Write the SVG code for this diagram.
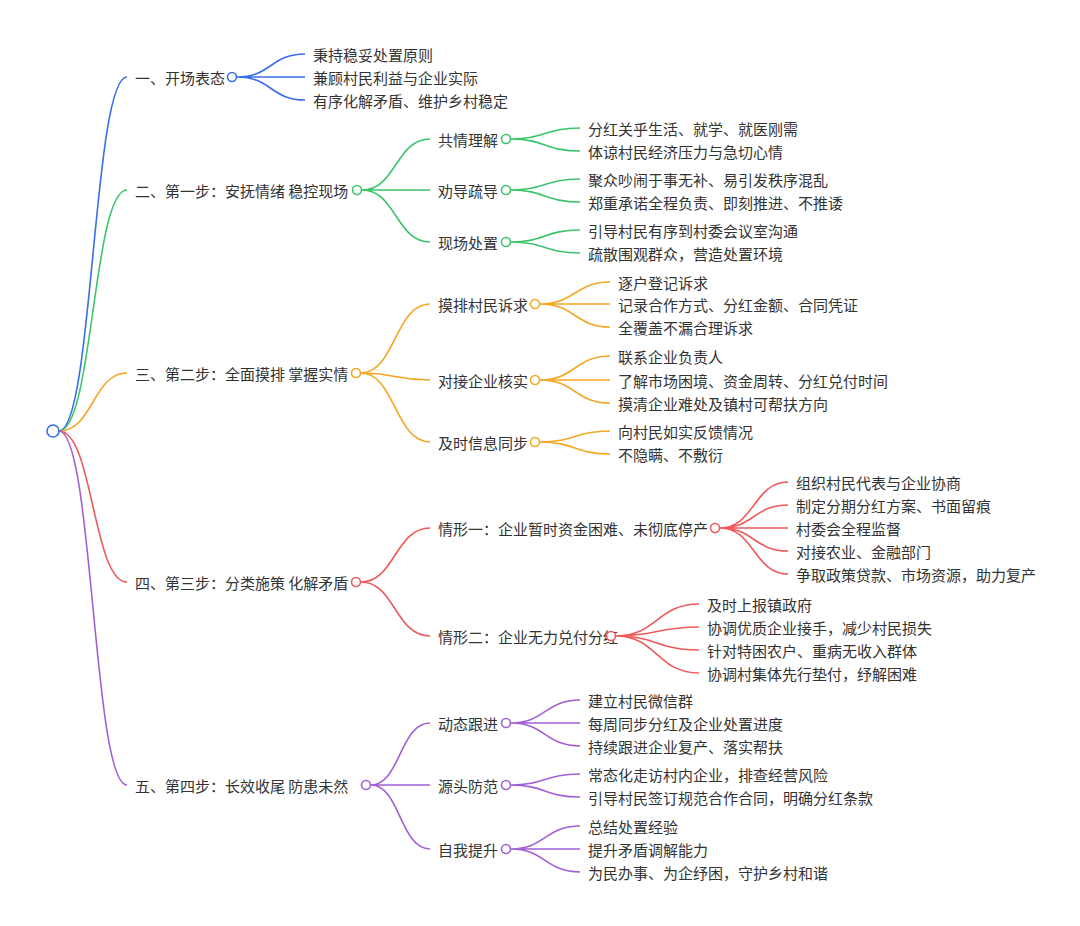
<svg xmlns="http://www.w3.org/2000/svg" width="1080" height="926" viewBox="0 0 1080 926">
<style>
text{font-family:"Noto Sans CJK SC","Noto Sans",sans-serif;font-size:15px;fill:#333;dominant-baseline:central}
path{fill:none;stroke-width:1.6}
circle{fill:#fff;stroke-width:1.6}
.b{stroke:#3a6ee8}.g{stroke:#3cc46c}.o{stroke:#f5a623}.r{stroke:#ee5a5a}.p{stroke:#a25fd6}
</style>
<rect width="1080" height="926" fill="#fff"/>
<g id="connectors">
<path class="b" d="M59 431C93 431 93 77 127 77"/>
<path class="g" d="M59 431C93 431 93 190 127 190"/>
<path class="o" d="M59 431C93 431 93 373 127 373"/>
<path class="r" d="M59 431C93 431 93 582 127 582"/>
<path class="p" d="M59 431C93 431 93 785 127 785"/>
<path class="b" d="M237 77C271 77 271 54 305 54M237 77H305M237 77C271 77 271 100 305 100"/>
<path class="g" d="M362 190C396 190 396 139 430 139M362 190H430M362 190C396 190 396 242 430 242"/>
<path class="g" d="M511 139C545 139 545 128 580 128M511 139C545 139 545 151 580 151M511 190C545 190 545 179 580 179M511 190C545 190 545 202 580 202M511 242C545 242 545 230 580 230M511 242C545 242 545 253 580 253"/>
<path class="o" d="M361 373C395 373 395 304 430 304M361 373C395 373 395 380 430 380M361 373C395 373 395 442 430 442"/>
<path class="o" d="M540 304C575 304 575 282 610 282M540 304H610M540 304C575 304 575 327 610 327M540 380C575 380 575 356 610 356M540 380H610M540 380C575 380 575 403 610 403M540 442C575 442 575 431 610 431M540 442C575 442 575 454 610 454"/>
<path class="r" d="M361 582C395 582 395 528 430 528M361 582C395 582 395 636 430 636"/>
<path class="r" d="M720 528C754 528 754 482 788 482M720 528C754 528 754 505 788 505M720 528H788M720 528C754 528 754 551 788 551M720 528C754 528 754 574 788 574"/>
<path class="r" d="M616 636C657 636 657 604 699 604M616 636C657 636 657 627 699 627M616 636C657 636 657 650 699 650M616 636C657 636 657 673 699 673"/>
<path class="p" d="M371 785C400 785 400 723 430 723M371 785H430M371 785C400 785 400 849 430 849"/>
<path class="p" d="M511 723C545 723 545 700 580 700M511 723H580M511 723C545 723 545 746 580 746M511 785C545 785 545 774 580 774M511 785C545 785 545 797 580 797M511 849C545 849 545 826 580 826M511 849H580M511 849C545 849 545 872 580 872"/>
</g>
<g id="root"><circle class="b" cx="53" cy="431" r="6"/></g>
<g id="n1"><text x="135" y="77">一、开场表态</text><circle class="b" cx="232" cy="77" r="4.5"/></g>
<g id="n1c"><text x="313" y="54">秉持稳妥处置原则</text><text x="313" y="77">兼顾村民利益与企业实际</text><text x="313" y="100">有序化解矛盾、维护乡村稳定</text></g>
<g id="n2"><text x="135" y="190">二、第一步：安抚情绪 稳控现场</text><circle class="g" cx="357" cy="190" r="4.5"/></g>
<g id="n2a"><text x="438" y="139">共情理解</text><circle class="g" cx="506" cy="139" r="4.5"/><text x="588" y="128">分红关乎生活、就学、就医刚需</text><text x="588" y="151">体谅村民经济压力与急切心情</text></g>
<g id="n2b"><text x="438" y="190">劝导疏导</text><circle class="g" cx="506" cy="190" r="4.5"/><text x="588" y="179">聚众吵闹于事无补、易引发秩序混乱</text><text x="588" y="202">郑重承诺全程负责、即刻推进、不推诿</text></g>
<g id="n2c"><text x="438" y="242">现场处置</text><circle class="g" cx="506" cy="242" r="4.5"/><text x="588" y="230">引导村民有序到村委会议室沟通</text><text x="588" y="253">疏散围观群众，营造处置环境</text></g>
<g id="n3"><text x="135" y="373">三、第二步：全面摸排 掌握实情</text><circle class="o" cx="356" cy="373" r="4.5"/></g>
<g id="n3a"><text x="438" y="304">摸排村民诉求</text><circle class="o" cx="535" cy="304" r="4.5"/><text x="618" y="282">逐户登记诉求</text><text x="618" y="304">记录合作方式、分红金额、合同凭证</text><text x="618" y="327">全覆盖不漏合理诉求</text></g>
<g id="n3b"><text x="438" y="380">对接企业核实</text><circle class="o" cx="535" cy="380" r="4.5"/><text x="618" y="356">联系企业负责人</text><text x="618" y="380">了解市场困境、资金周转、分红兑付时间</text><text x="618" y="403">摸清企业难处及镇村可帮扶方向</text></g>
<g id="n3c"><text x="438" y="442">及时信息同步</text><circle class="o" cx="535" cy="442" r="4.5"/><text x="618" y="431">向村民如实反馈情况</text><text x="618" y="454">不隐瞒、不敷衍</text></g>
<g id="n4"><text x="135" y="582">四、第三步：分类施策 化解矛盾</text><circle class="r" cx="356" cy="582" r="4.5"/></g>
<g id="n4a"><text x="438" y="528">情形一：企业暂时资金困难、未彻底停产</text><circle class="r" cx="715" cy="528" r="4.5"/><text x="796" y="482">组织村民代表与企业协商</text><text x="796" y="505">制定分期分红方案、书面留痕</text><text x="796" y="528">村委会全程监督</text><text x="796" y="551">对接农业、金融部门</text><text x="796" y="574">争取政策贷款、市场资源，助力复产</text></g>
<g id="n4b"><text x="438" y="636">情形二：企业无力兑付分红</text><circle class="r" cx="611" cy="636" r="4.5"/><text x="707" y="604">及时上报镇政府</text><text x="707" y="627">协调优质企业接手，减少村民损失</text><text x="707" y="650">针对特困农户、重病无收入群体</text><text x="707" y="673">协调村集体先行垫付，纾解困难</text></g>
<g id="n5"><text x="135" y="785">五、第四步：长效收尾 防患未然</text><circle class="p" cx="366" cy="785" r="4.5"/></g>
<g id="n5a"><text x="438" y="723">动态跟进</text><circle class="p" cx="506" cy="723" r="4.5"/><text x="588" y="700">建立村民微信群</text><text x="588" y="723">每周同步分红及企业处置进度</text><text x="588" y="746">持续跟进企业复产、落实帮扶</text></g>
<g id="n5b"><text x="438" y="785">源头防范</text><circle class="p" cx="506" cy="785" r="4.5"/><text x="588" y="774">常态化走访村内企业，排查经营风险</text><text x="588" y="797">引导村民签订规范合作合同，明确分红条款</text></g>
<g id="n5c"><text x="438" y="849">自我提升</text><circle class="p" cx="506" cy="849" r="4.5"/><text x="588" y="826">总结处置经验</text><text x="588" y="849">提升矛盾调解能力</text><text x="588" y="872">为民办事、为企纾困，守护乡村和谐</text></g>
</svg>
